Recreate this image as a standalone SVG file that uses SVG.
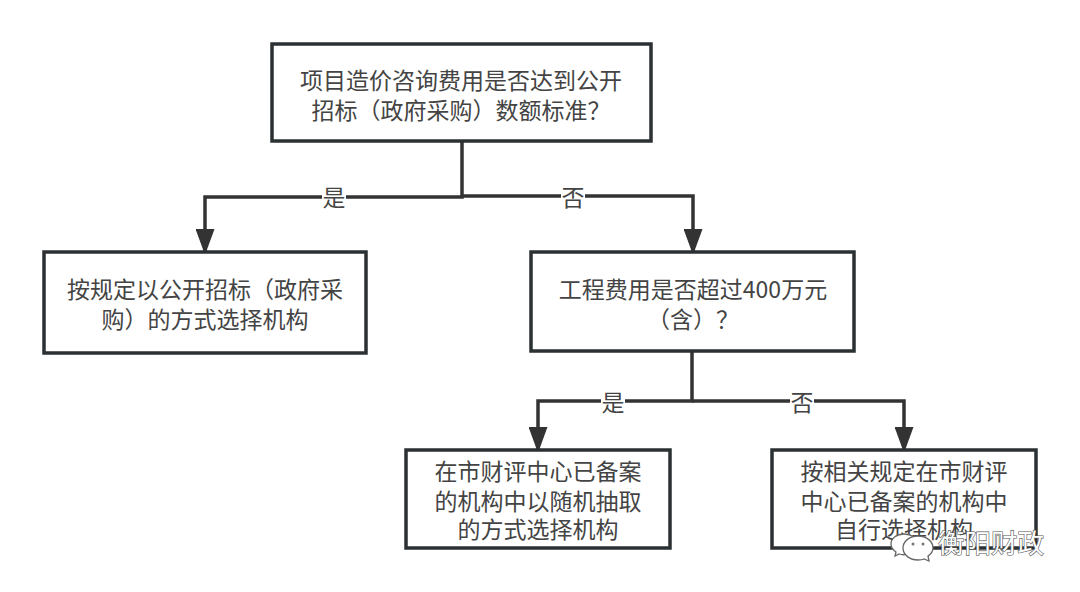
<svg xmlns="http://www.w3.org/2000/svg" width="1080" height="592" viewBox="0 0 1080 592">
<style>
.n{fill:#fff;stroke:#2b3033;stroke-width:3.5}
.t{font-family:"Noto Sans CJK SC","Liberation Sans",sans-serif;font-size:23px;fill:#444;text-anchor:middle}
.c{fill:none;stroke:#333;stroke-width:3.5}
.l{fill:#fff}
.w{font-family:"Noto Sans CJK SC",sans-serif;font-size:26.5px;fill:#fff;stroke:#555;stroke-width:1.2;paint-order:stroke}
.b{fill:#fff;stroke:#666;stroke-width:1.3}
.d{fill:#777}
</style>
<defs><marker id="a" markerUnits="userSpaceOnUse" markerWidth="26" markerHeight="19" refX="25" refY="9.5" orient="auto" viewBox="0 0 26 19"><path d="M0 0L26 9.5L0 19Z" fill="#333"/></marker></defs>
<rect width="1080" height="592" fill="#fff"/>
<g id="connectors">
<path class="c" d="M462 141V197H205V254" marker-end="url(#a)"/>
<path class="c" d="M462 196H693V254" marker-end="url(#a)"/>
<path class="c" d="M692 352V401H538V452" marker-end="url(#a)"/>
<path class="c" d="M692 401H904V452" marker-end="url(#a)"/>
<rect class="l" x="322" y="183" width="24" height="27"/><text class="t" x="334" y="206">是</text>
<rect class="l" x="561" y="183" width="24" height="27"/><text class="t" x="573" y="206">否</text>
<rect class="l" x="601" y="389" width="24" height="27"/><text class="t" x="613" y="411">是</text>
<rect class="l" x="790" y="389" width="24" height="27"/><text class="t" x="802" y="411">否</text>
</g>
<g id="n1"><rect class="n" x="272" y="44" width="379" height="97"/><text class="t" x="461" y="89">项目造价咨询费用是否达到公开</text><text class="t" x="461" y="119">招标（政府采购）数额标准？</text></g>
<g id="n2"><rect class="n" x="44" y="252" width="322" height="101"/><text class="t" x="205" y="298">按规定以公开招标（政府采</text><text class="t" x="205" y="328">购）的方式选择机构</text></g>
<g id="n3"><rect class="n" x="531" y="252" width="323" height="99"/><text class="t" x="693" y="298">工程费用是否超过400万元</text><text class="t" x="693" y="328">（含）？</text></g>
<g id="n4"><rect class="n" x="406" y="450" width="264" height="98"/><text class="t" x="538" y="480">在市财评中心已备案</text><text class="t" x="538" y="510">的机构中以随机抽取</text><text class="t" x="538" y="538">的方式选择机构</text></g>
<g id="n5"><rect class="n" x="772" y="450" width="264" height="98"/><text class="t" x="904" y="480">按相关规定在市财评</text><text class="t" x="904" y="510">中心已备案的机构中</text><text class="t" x="904" y="538">自行选择机构</text></g>
<g id="watermark">
<path class="b" d="M904 534C897 534 891 538 891 544C891 548 893 550 896 552L895 556L899 554C902 555 905 555 908 554C915 553 918 549 918 544C918 538 911 534 904 534Z"/>
<path class="b" d="M918 536C910 536 903 541 903 548C903 555 910 560 918 560C920 560 922 560 924 559L929 561L928 556C931 554 933 551 933 548C933 541 926 536 918 536Z"/>
<circle class="d" cx="913" cy="544" r="1.5"/><circle class="d" cx="923" cy="544" r="1.5"/>
<text class="w" x="938" y="553">衡阳财政</text>
</g>
</svg>
